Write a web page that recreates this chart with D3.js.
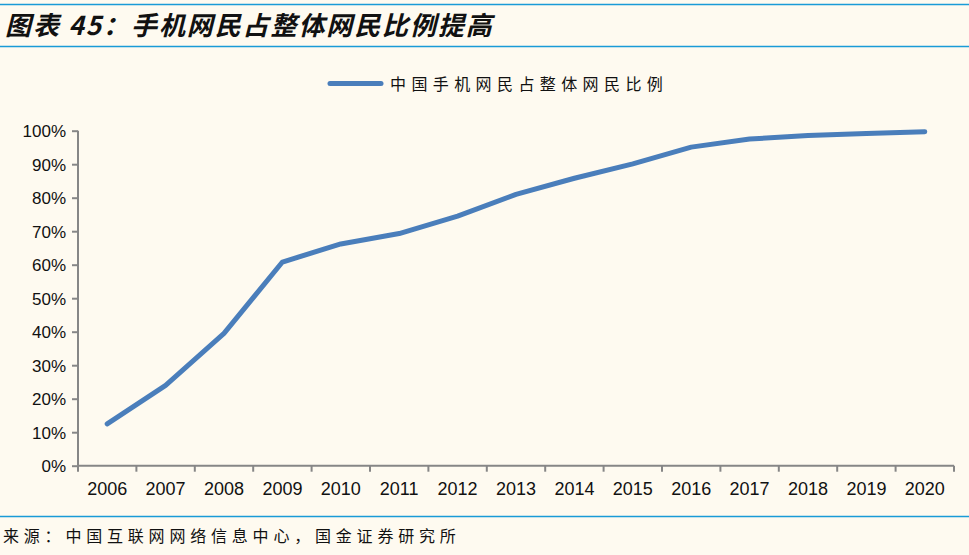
<!DOCTYPE html>
<html><head><meta charset="utf-8">
<script src="https://cdn.jsdelivr.net/npm/d3@7/dist/d3.min.js"></script>
<style>
html,body{margin:0;padding:0;background:#FEFAF0;}
svg{display:block;}
</style></head>
<body>
<svg id="chart" width="969" height="555"></svg>
<script>
const years = ["2006","2007","2008","2009","2010","2011","2012","2013","2014","2015","2016","2017","2018","2019","2020"];
const shareValues = [12.5,24.0,39.5,60.8,66.2,69.3,74.5,81.0,85.8,90.1,95.1,97.5,98.6,99.2,99.7];
const yTicks = [0,10,20,30,40,50,60,70,80,90,100];
const seriesName = "中国手机网民占整体网民比例";
const titleText = "图表 45：手机网民占整体网民比例提高";
const sourceText = "来源：中国互联网网络信息中心，国金证券研究所";

const svg = d3.select("#chart");
const W = 969, H = 555;
svg.append("rect").attr("width",W).attr("height",H).attr("fill","#FEFAF0");

// header / footer rules
const rule = "#1A9BD7";
svg.append("line").attr("x1",0).attr("x2",W).attr("y1",4.5).attr("y2",4.5).attr("stroke",rule).attr("stroke-width",1.5);
svg.append("line").attr("x1",0).attr("x2",W).attr("y1",46.5).attr("y2",46.5).attr("stroke",rule).attr("stroke-width",1.5);
svg.append("line").attr("x1",0).attr("x2",W).attr("y1",516.5).attr("y2",516.5).attr("stroke",rule).attr("stroke-width",1.5);

svg.append("text").attr("x",5).attr("y",35)
  .attr("font-family","'Noto Sans CJK SC', sans-serif").attr("font-size",26)
  .attr("font-weight","bold").attr("font-style","italic").attr("fill","#111")
  .attr("letter-spacing",1.9)
  .text(titleText);

svg.append("text").attr("x",3).attr("y",542)
  .attr("font-family","'Noto Sans CJK SC', sans-serif").attr("font-size",16)
  .attr("letter-spacing",4.8).attr("fill","#111")
  .text(sourceText);

const pLeft = 78, pRight = 954, pTop = 130.7, pBottom = 465.7;
const x = d3.scaleBand().domain(years).range([pLeft,pRight]);
const y = d3.scaleLinear().domain([0,100]).range([pBottom,pTop]);

const axisColor = "#868686";
const gy = svg.append("g").attr("transform",`translate(${pLeft},0)`)
  .call(d3.axisLeft(y).tickValues(yTicks).tickSize(6).tickPadding(6).tickFormat(d=>d+"%"));
const gx = svg.append("g").attr("transform",`translate(0,${pBottom})`)
  .call(d3.axisBottom(x).tickValues(years).tickSize(0).tickPadding(17));
// x ticks at band boundaries
const bounds = years.map(d=>x(d)).concat([pRight]);
gx.selectAll(".bt").data(bounds).enter().append("line").attr("class","bt")
  .attr("x1",d=>d).attr("x2",d=>d).attr("y1",0).attr("y2",6)
  .attr("stroke",axisColor).attr("stroke-width",2);
[gx,gy].forEach(g=>{
  g.select(".domain").attr("stroke",axisColor).attr("stroke-width",2);
  g.selectAll(".tick line").attr("stroke",axisColor).attr("stroke-width",2);
  g.selectAll("text").attr("font-family","'Liberation Sans', Arial, sans-serif").attr("fill","#111");
});
gy.select(".domain").attr("d",`M0,${pBottom}V${pTop}`);
gx.select(".domain").attr("d",`M${pLeft},0H${pRight}`);
gy.selectAll("text").attr("font-size",17).attr("dy","0.36em");
gx.selectAll("text").attr("font-size",18).attr("dy","0.71em");

const line = d3.line().x((d,i)=>x(years[i])+x.bandwidth()/2).y(d=>y(d));
svg.append("path").datum(shareValues).attr("d",line)
  .attr("fill","none").attr("stroke","#4A7EBB").attr("stroke-width",5)
  .attr("stroke-linejoin","round").attr("stroke-linecap","round");

// legend
svg.append("line").attr("x1",330).attr("x2",381).attr("y1",83.5).attr("y2",83.5)
  .attr("stroke","#4A7EBB").attr("stroke-width",5).attr("stroke-linecap","round");
svg.append("text").attr("x",390).attr("y",90)
  .attr("font-family","'Noto Sans CJK SC', sans-serif").attr("font-size",16)
  .attr("letter-spacing",5.4).attr("fill","#111")
  .text(seriesName);
</script>
</body></html>
